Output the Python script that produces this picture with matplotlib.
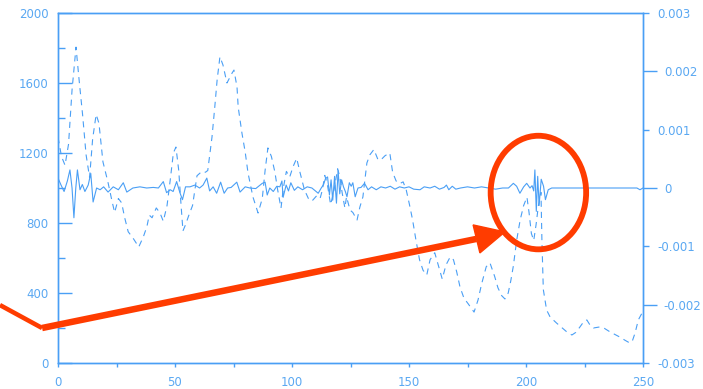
import matplotlib
matplotlib.use("Agg")
import matplotlib.pyplot as plt
from matplotlib.patches import Ellipse, Polygon
from matplotlib.ticker import FixedLocator, FuncFormatter, NullFormatter

plt.rcParams['font.family'] = ['DejaVu Sans']
plt.rcParams['axes.unicode_minus'] = False

# dashed series (left axis)
dash_x = [0, 1.5, 3, 4.5, 6, 7.7, 9, 10.5, 12, 13.5, 14.8, 16.3, 17.5, 19.2, 21.4, 23, 24.2,
          25.8, 27.2, 28.5, 30, 32, 34.5, 36.5, 38, 39, 40.2, 42, 43.6, 45, 46.6, 48, 49.3,
          50.4, 51.6, 52.6, 53.4, 54.5, 55.8, 57.5, 59.4, 61.5, 63, 64, 65.8, 67, 68, 69.2,
          70.5, 72.2, 74.4, 75.2, 76.5, 77, 78.6, 80, 81.2, 83.3, 85.5, 87.3, 88.5, 89.7,
          91.2, 92.7, 93.8, 95.3, 96.3, 97.6, 99, 100.4, 102, 103.4, 105.3, 107, 108.5, 110.5,
          112, 113, 114, 115, 116.5, 118, 119.5, 120.5, 121.4, 122.6, 123.3, 124.8, 126, 127.8,
          129, 130.3, 132, 133.3, 135, 136.8, 138.3, 139.8, 141.8, 143, 144.5, 146, 147.5,
          148.8, 150.2, 151.5, 153, 154.5, 156, 157.6, 159, 161, 162.5, 164.2, 165.8, 167.6,
          169, 170.4, 171.8, 173.5, 175.2, 177.8, 179.5, 181, 183, 184.6, 186.6, 188, 189.6,
          191, 192.4, 193.5, 194.6, 196, 197.5, 199, 200.4, 201.3, 202.3, 203.3, 204.3, 205.3,
          206.4, 206.8, 207.4, 208.8, 210.3, 213, 215.5, 217.5, 219.6, 221.3, 223, 224.6, 226,
          227.3, 228.8, 231.5, 233.5, 236, 238, 240, 242.3, 244.4, 245.5, 246.6, 248, 249.6]
dash_y = [1290, 1180, 1130, 1250, 1560, 1805, 1620, 1420, 1190, 1060, 1280, 1420, 1370, 1150,
          1030, 930, 860, 940, 915, 830, 750, 715, 663, 722, 780, 845, 830, 886, 857, 810, 900,
          1050, 1200, 1234, 1100, 900, 755, 790, 840, 900, 1070, 1095, 1090, 1100, 1290, 1463,
          1617, 1750, 1703, 1600, 1657, 1674, 1577, 1463, 1314, 1205, 1086, 949, 857, 940, 1100,
          1229, 1180, 1090, 995, 885, 1000, 1095, 1062, 1120, 1170, 1090, 990, 940, 925, 955,
          940, 990, 1072, 1030, 905, 990, 1110, 1060, 975, 886, 950, 874, 860, 817, 891, 949,
          1143, 1190, 1220, 1160, 1165, 1185, 1200, 1090, 1040, 1025, 1035, 990, 905, 820, 700,
          590, 530, 503, 590, 630, 560, 480, 560, 606, 590, 520, 434, 370, 340, 291, 360, 450,
          550, 572, 495, 430, 385, 366, 400, 470, 555, 700, 817, 900, 948, 860, 740, 700, 790,
          900, 975, 700, 420, 303, 263, 229, 200, 177, 160, 175, 205, 235, 246, 218, 200, 206,
          198, 177, 163, 149, 130, 114, 128, 171, 246, 286]

# solid series (right axis)
solid_x = [0, 1.3, 2.6, 4, 5.1, 6, 6.8, 7.6, 8.3, 9.4, 10.4, 11.5, 12.9, 14, 15, 16.5, 18, 19.5,
           21.4, 23.6, 25.8, 27.9, 29.4, 32, 35, 37.9, 40.7, 42.9, 45, 46.4, 48, 49.2, 50.7,
           52.1, 53.2, 54.5, 56.4, 58.5, 60.5, 62, 63.6, 64.8, 66.3, 67.8, 69.5, 71, 72.5, 74,
           76.4, 77.8, 80, 82, 84.5, 87.3, 88.5, 89.4, 90.5, 92, 93.5, 94.8, 95.7, 96.2, 97.5,
           98.5, 99.5, 101, 102.5, 104.5, 106.5, 108.5, 110, 111.2, 112.5, 113.5, 114.3, 115.2,
           116, 116.7, 117.4, 118.2, 119, 119.7, 120.4, 121.2, 122, 122.8, 123.5, 124.5, 125.3,
           126, 127, 128.2, 129.5, 131, 132.5, 134, 136, 138, 140, 142, 144, 146, 148, 150, 152,
           154.7, 156.5, 159, 161, 163, 165, 166, 167, 168.5, 170, 172, 175, 178, 181, 184, 187,
           190, 192.5, 194.6, 196, 197.4, 199, 200.3, 201.7, 202.6, 203.3, 203.8, 204.4, 205,
           205.6, 206.5, 207.5, 208.3, 209.5, 211, 247.4, 248.7, 250]
solid_y = [1.7e-4, 0.5e-4, -0.6e-4, 1.2e-4, 3.1e-4, 0, -5.1e-4, 0, 3.1e-4, -0.3e-4, 0.6e-4,
           -0.6e-4, 0.5e-4, 2.5e-4, -2.4e-4, 0, -0.3e-4, 0.2e-4, -0.7e-4, 0.2e-4, -0.3e-4,
           0.9e-4, -0.7e-4, 0, 0.2e-4, 0, 0.1e-4, 0, 1.1e-4, -0.8e-4, -0.3e-4, -0.6e-4, 1.1e-4,
           -0.8e-4, -2.0e-4, 0.2e-4, 0.2e-4, 0.5e-4, 0, 0.5e-4, 1.7e-4, -0.5e-4, 0.2e-4,
           -0.9e-4, 1.0e-4, -0.9e-4, 0, 0.1e-4, 1.0e-4, -0.7e-4, 0.2e-4, 0, -0.1e-4, 0.8e-4,
           1.0e-4, -1.2e-4, 0, -0.6e-4, 0.3e-4, 0.2e-4, 1.2e-4, -1.6e-4, 0.5e-4, -0.5e-4,
           0.9e-4, -0.4e-4, 0.2e-4, -0.3e-4, 0.2e-4, 0, -0.5e-4, -0.9e-4, 0, 0.6e-4, 1.6e-4,
           1.9e-4, -1.2e-4, 1.4e-4, -2.1e-4, 2.0e-4, -2.6e-4, 3.0e-4, -1.0e-4, 1.4e-4, 0.2e-4,
           -0.6e-4, -1.5e-4, 0.9e-4, 0.3e-4, 0.9e-4, -1.5e-4, 0, 0.1e-4, 0.8e-4, -0.3e-4,
           0.2e-4, -0.3e-4, 0.2e-4, 0, 0.3e-4, -0.2e-4, 0.2e-4, 0, 0.2e-4, -0.2e-4, -0.3e-4,
           0.2e-4, 0, 0.3e-4, -0.2e-4, 0.1e-4, 0.5e-4, -0.3e-4, 0.3e-4, -0.2e-4, 0, 0.2e-4, 0,
           0.2e-4, 0, -0.2e-4, 0, 0, 0.8e-4, 0.3e-4, -0.9e-4, 0.2e-4, 0.8e-4, 0, 0.4e-4,
           -0.5e-4, 3.1e-4, -4.0e-4, 2.0e-4, -3.0e-4, 1.5e-4, 0.3e-4, -2.0e-4, -0.3e-4, 0, 0,
           -0.3e-4, 0]

x_major = [0, 50, 100, 150, 200, 250]
x_minor = [25, 75, 125, 175, 225]
left_major = [0, 400, 800, 1200, 1600, 2000]
left_minor = [200, 600, 1000, 1400, 1800]
right_major = [-0.002, 0, 0.002]
right_minor = [-0.003, -0.001, 0.001, 0.003]

# red annotation (left-axis data coords)
arrow_x = [-24.8, -6.8, 178.8]
arrow_y = [331, 200, 709]
head = [(191.0, 749), (177.4, 789), (180.3, 629)]
ring_center = (205.3, 974)
ring_w, ring_h = 40.8, 649

blue = '#4a9ff5'
txt_blue = '#5aa8f2'
red = '#ff3c00'

fig = plt.figure(figsize=(7.03, 3.89), dpi=100)
ax = fig.add_axes([58 / 703, 26 / 389, 585 / 703, 350 / 389])
ax2 = ax.twinx()

ax.plot(dash_x, dash_y, color=blue, lw=0.8, dashes=(5.5, 4.5))
ax2.plot(solid_x, solid_y, color=blue, lw=0.8)

ax.set_xlim(0, 250)
ax.set_ylim(0, 2000)
ax2.set_ylim(-0.003, 0.003)

for a in (ax, ax2):
    for s in a.spines.values():
        s.set_color(blue)
        s.set_linewidth(1.0)

ax.xaxis.set_major_locator(FixedLocator(x_major))
ax.xaxis.set_minor_locator(FixedLocator(x_minor))
ax.xaxis.set_minor_formatter(NullFormatter())
ax.tick_params(axis='x', which='both', direction='out', length=3, width=1, color=blue,
               labelcolor=txt_blue, labelsize=8.5, pad=6, top=False)

ax.yaxis.set_major_locator(FixedLocator(left_major))
ax.yaxis.set_minor_locator(FixedLocator(left_minor))
ax.yaxis.set_minor_formatter(NullFormatter())
ax.yaxis.set_major_formatter(FuncFormatter(lambda v, p: '%d' % v))
ax.tick_params(axis='y', which='major', direction='in', length=10, width=1, color=blue,
               labelcolor=txt_blue, labelsize=8.5, pad=7, right=False)
ax.tick_params(axis='y', which='minor', direction='in', length=5, width=1, color=blue, right=False)

fmt = FuncFormatter(lambda v, p: '%g' % v)
ax2.yaxis.set_major_locator(FixedLocator(right_major))
ax2.yaxis.set_minor_locator(FixedLocator(right_minor))
ax2.yaxis.set_major_formatter(fmt)
ax2.yaxis.set_minor_formatter(fmt)
ax2.tick_params(axis='y', which='major', direction='out', length=10, width=1, color=blue,
                labelcolor=txt_blue, labelsize=8.5, pad=5)
ax2.tick_params(axis='y', which='minor', direction='out', length=4.5, width=1, color=blue,
                labelcolor=txt_blue, labelsize=8.5, pad=6, labelright=True)

# annotation drawn on top
ax2.plot(arrow_x[:2], arrow_y[:2], color=red, lw=3.3, transform=ax.transData,
         clip_on=False, solid_capstyle='butt', zorder=5)
ax2.plot(arrow_x[1:], arrow_y[1:], color=red, lw=4.7, transform=ax.transData,
         clip_on=False, solid_capstyle='butt', zorder=5)
ax2.add_patch(Polygon(head, closed=True, color=red, transform=ax.transData,
                      clip_on=False, zorder=5))
ax2.add_patch(Ellipse(ring_center, ring_w, ring_h, fill=False, ec=red, lw=4.2,
                      transform=ax.transData, clip_on=False, zorder=5))

fig.savefig('out.png', dpi=100)
